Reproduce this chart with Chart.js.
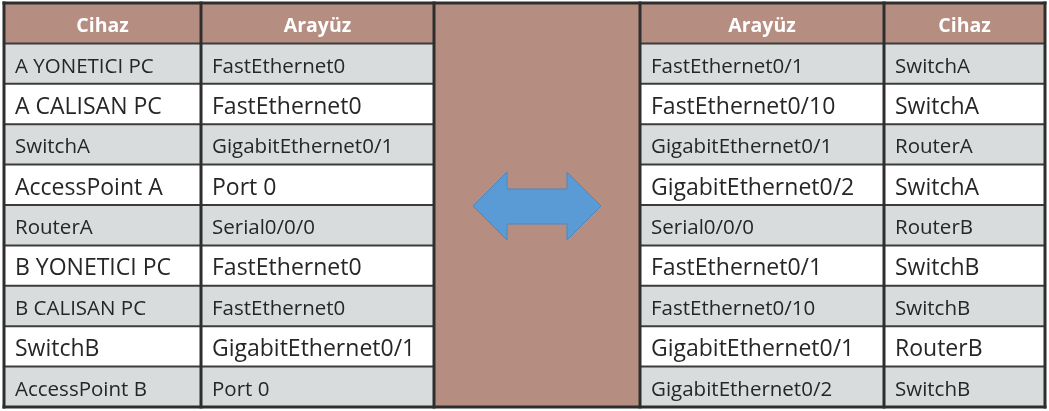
<!DOCTYPE html>
<html>
<head>
<meta charset="utf-8">
<script src="https://cdn.jsdelivr.net/npm/chart.js@4"></script>
<style>
  html, body { margin: 0; padding: 0; background: #fff; }
  #wrap { width: 1049px; height: 411px; }
</style>
</head>
<body>
<div id="wrap"><canvas id="tableChart" width="1049" height="411"></canvas></div>
<script>
// table content
const headers = ['Cihaz', 'Arayüz', '', 'Arayüz', 'Cihaz'];
const leftDevice = ['A YONETICI PC', 'A CALISAN PC', 'SwitchA', 'AccessPoint A', 'RouterA', 'B YONETICI PC', 'B CALISAN PC', 'SwitchB', 'AccessPoint B'];
const leftPort = ['FastEthernet0', 'FastEthernet0', 'GigabitEthernet0/1', 'Port 0', 'Serial0/0/0', 'FastEthernet0', 'FastEthernet0', 'GigabitEthernet0/1', 'Port 0'];
const rightPort = ['FastEthernet0/1', 'FastEthernet0/10', 'GigabitEthernet0/1', 'GigabitEthernet0/2', 'Serial0/0/0', 'FastEthernet0/1', 'FastEthernet0/10', 'GigabitEthernet0/1', 'GigabitEthernet0/2'];
const rightDevice = ['SwitchA', 'SwitchA', 'RouterA', 'SwitchA', 'RouterB', 'SwitchB', 'SwitchB', 'RouterB', 'SwitchB'];

// layout
const colEdges = [4, 201, 434, 640, 884, 1045];
const BROWN = '#b58e81';
const GRAY = '#d9dcdc';
const WHITE = '#ffffff';
const FONT = '"Open Sans", "Noto Sans", sans-serif';

const rowLabels = ['header'].concat(leftDevice.map((d, i) => 'r' + i));
const columns = [leftDevice, leftPort, null, rightPort, rightDevice];

const datasets = columns.map((col, c) => ({
    data: rowLabels.map(() => [colEdges[c], colEdges[c + 1]]),
    backgroundColor: rowLabels.map((r, i) => {
        if (i === 0 || col === null) return BROWN;
        return i % 2 === 1 ? GRAY : WHITE;
    }),
    borderWidth: 0,
    barPercentage: 1,
    categoryPercentage: 1
}));

const tablePlugin = {
    id: 'tableText',
    afterDatasetsDraw(chart) {
        const ctx = chart.ctx;
        const x = chart.scales.x;
        const y = chart.scales.y;
        const band = Math.abs(y.getPixelForValue(1) - y.getPixelForValue(0));
        const top = y.getPixelForValue(0) - band / 2;
        const bottom = y.getPixelForValue(rowLabels.length - 1) + band / 2;
        const xs = colEdges.map(e => x.getPixelForValue(e));

        // arrow in middle column
        const cx = (xs[2] + xs[3]) / 2;
        const cy = (top + bottom) / 2 + 1;
        ctx.save();
        ctx.beginPath();
        ctx.moveTo(cx - 64, cy);
        ctx.lineTo(cx - 30, cy - 34);
        ctx.lineTo(cx - 30, cy - 17);
        ctx.lineTo(cx + 30, cy - 17);
        ctx.lineTo(cx + 30, cy - 34);
        ctx.lineTo(cx + 64, cy);
        ctx.lineTo(cx + 30, cy + 34);
        ctx.lineTo(cx + 30, cy + 18);
        ctx.lineTo(cx - 30, cy + 18);
        ctx.lineTo(cx - 30, cy + 34);
        ctx.closePath();
        ctx.fillStyle = '#5b9bd5';
        ctx.fill();
        ctx.strokeStyle = '#4a88c4';
        ctx.lineWidth = 1;
        ctx.stroke();

        // horizontal row lines
        ctx.strokeStyle = '#3c3c3c';
        ctx.lineWidth = 2;
        for (let i = 1; i < rowLabels.length; i++) {
            const yy = y.getPixelForValue(i) - band / 2;
            [[xs[0], xs[2]], [xs[3], xs[5]]].forEach(([a, b]) => {
                ctx.beginPath();
                ctx.moveTo(a, yy);
                ctx.lineTo(b, yy);
                ctx.stroke();
            });
        }
        // vertical lines
        ctx.strokeStyle = '#2e2e2e';
        ctx.lineWidth = 3;
        xs.forEach(xx => {
            ctx.beginPath();
            ctx.moveTo(xx, top - 1.5);
            ctx.lineTo(xx, bottom + 1.5);
            ctx.stroke();
        });
        // outer top / bottom
        [top, bottom].forEach(yy => {
            ctx.beginPath();
            ctx.moveTo(xs[0] - 1.5, yy);
            ctx.lineTo(xs[5] + 1.5, yy);
            ctx.stroke();
        });

        // header text
        ctx.textBaseline = 'alphabetic';
        ctx.textAlign = 'center';
        ctx.fillStyle = '#ffffff';
        const hSize = 19.5;
        ctx.font = 'bold ' + hSize + 'px ' + FONT;
        headers.forEach((h, c) => {
            if (!h) return;
            ctx.fillText(h, (xs[c] + xs[c + 1]) / 2, y.getPixelForValue(0) + 0.714 * hSize / 2 + 1.8);
        });

        // cell text
        ctx.textAlign = 'left';
        ctx.fillStyle = '#262626';
        columns.forEach((col, c) => {
            if (!col) return;
            col.forEach((txt, r) => {
                const size = r % 2 === 0 ? 20.5 : 23;
                ctx.font = size + 'px ' + FONT;
                ctx.fillText(txt, xs[c] + 11, y.getPixelForValue(r + 1) + 0.714 * size / 2 + 1.6);
            });
        });
        ctx.restore();
    }
};

new Chart(document.getElementById('tableChart').getContext('2d'), {
    type: 'bar',
    data: { labels: rowLabels, datasets: datasets },
    options: {
        indexAxis: 'y',
        responsive: false,
        animation: false,
        events: [],
        layout: { padding: { top: 3, bottom: 4, left: 0, right: 0 } },
        plugins: { legend: { display: false }, tooltip: { enabled: false } },
        scales: {
            x: { type: 'linear', min: 0, max: 1049, display: false },
            y: { type: 'category', display: false, grid: { display: false } }
        },
        datasets: { bar: { grouped: false } }
    },
    plugins: [tablePlugin]
});
</script>
</body>
</html>
